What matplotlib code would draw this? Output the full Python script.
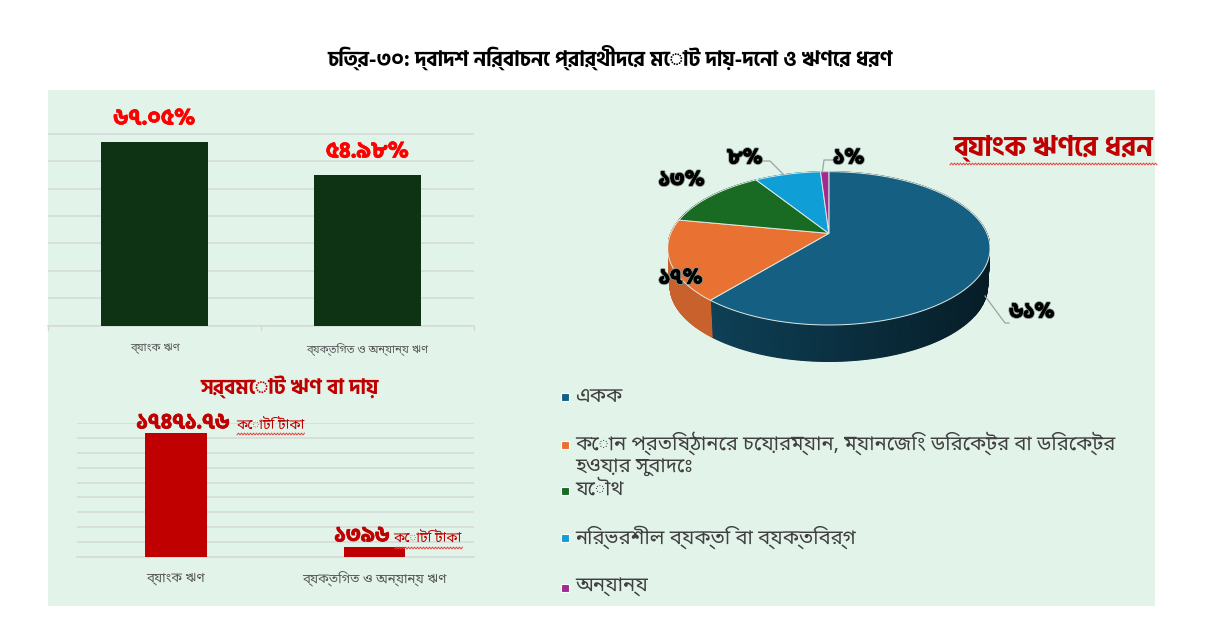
import numpy as np
import matplotlib
matplotlib.use('Agg')
import matplotlib.pyplot as plt
import matplotlib.patheffects as pe
from matplotlib.patches import Polygon

plt.rcParams['font.family'] = ['Noto Sans Bengali', 'DejaVu Sans']
BOLD = ['Hind Siliguri', 'Noto Sans Bengali', 'DejaVu Sans']

W, H = 1220, 617

# data
title_text = 'চিত্র-৩০: দ্বাদশ নির্বাচনে প্রার্থীদের মোট দায়-দেনা ও ঋণের ধরণ'

share_cats = ['ব্যাংক ঋণ', 'ব্যক্তিগত ও অন্যান্য ঋণ']
share_vals = [67.05, 54.98]
share_labels = ['৬৭.০৫%', '৫৪.৯৮%']

total_title = 'সর্বমোট ঋণ বা দায়'
total_cats = ['ব্যাংক ঋণ', 'ব্যক্তিগত ও অন্যান্য ঋণ']
total_vals = [17471.76, 1396]
total_labels = ['১৭৪৭১.৭৬', '১৩৯৬']
unit_text = 'কোটি টাকা'

pie_title = 'ব্যাংক ঋণের ধরন'
pie_vals = [61, 17, 13, 8, 1]
pie_labels = ['৬১%', '১৭%', '১৩%', '৮%', '১%']
pie_names = ['একক',
             'কোন প্রতিষ্ঠানের চেয়ারম্যান, ম্যানেজিং ডিরেক্টর বা ডিরেক্টর\nহওয়ার সুবাদেঃ',
             'যৌথ',
             'নির্ভরশীল ব্যক্তি বা ব্যক্তিবর্গ',
             'অন্যান্য']
pie_colors = ['#156082', '#e97132', '#196b24', '#0f9ed5', '#a02b93']


def axes_px(left, top, right, bottom, **kw):
    # axes placed by picture pixels
    return fig.add_axes([left / W, 1 - bottom / H, (right - left) / W, (bottom - top) / H], **kw)


def shade(color, f):
    c = np.array(matplotlib.colors.to_rgb(color))
    return tuple(c * f)


def heavy(color, lw=0.7):
    return [pe.withStroke(linewidth=lw, foreground=color)]


fig = plt.figure(figsize=(W / 100, H / 100), dpi=100, facecolor='white')

# pixel axes behind everything, only for the panel
back = axes_px(0, 0, W, H, zorder=0)
back.set_xlim(0, W)
back.set_ylim(H, 0)
back.axis('off')
back.fill_between([48, 1155], 90, 606, color='#e2f3ea', lw=0)

GRID = '#d3dad6'
LABEL = '#595959'

# top left bars
ax1 = axes_px(48, 106.5, 474, 325.5, zorder=1)
ax1.patch.set_alpha(0)
ax1.bar(range(2), share_vals, width=0.5, color='#0e3214', zorder=3)
ax1.set_xlim(-0.5, 1.5)
ax1.set_ylim(0, 80)
ax1.set_yticks(np.arange(0, 81, 10))
ax1.set_yticklabels([])
ax1.set_xticks(range(2))
ax1.set_xticklabels(share_cats, fontsize=8, color=LABEL)
ax1.tick_params(axis='y', length=0)
ax1.tick_params(axis='x', length=0, pad=12.5)
ax1.grid(axis='y', color=GRID, lw=1.1, zorder=0)
ax1.set_axisbelow(True)
for s in ['top', 'left', 'right']:
    ax1.spines[s].set_visible(False)
ax1.spines['bottom'].set_color(GRID)
ax1.spines['bottom'].set_linewidth(1.1)
for x in [-0.5, 0.5, 1.5]:
    ax1.plot([x, x], [0, -1.6], color=GRID, lw=1, clip_on=False)
for i, lab in enumerate(share_labels):
    ax1.annotate(lab, (i, share_vals[i]), xytext=(0, 16.5), textcoords='offset points',
                 ha='center', va='center', color='#ff0000', fontsize=16, fontweight='bold',
                 family=BOLD, path_effects=heavy('#ff0000', 0.5))

# bottom left bars
ax2 = axes_px(76.5, 423, 474, 557, zorder=1)
ax2.patch.set_alpha(0)
ax2.bar(range(2), total_vals, width=0.31, color='#c00000', zorder=3)
ax2.set_xlim(-0.5, 1.5)
ax2.set_ylim(0, 18900)
ax2.set_yticks(np.arange(0, 18901, 2100))
ax2.set_yticklabels([])
ax2.set_xticks(range(2))
ax2.set_xticklabels(total_cats, fontsize=9.5, color=LABEL)
ax2.tick_params(axis='both', length=0)
ax2.tick_params(axis='x', pad=10.5)
ax2.grid(axis='y', color=GRID, lw=1.1, zorder=0)
ax2.set_axisbelow(True)
for s in ['top', 'left', 'right']:
    ax2.spines[s].set_visible(False)
ax2.spines['bottom'].set_color(GRID)
ax2.spines['bottom'].set_linewidth(1.1)

# pie, flat wedges from ax.pie redrawn in the 3d view
TILT = 0.195
DEPTH = 0.49


def view(u, v):
    # perspective of the unit disc, apex sits above the centre of the ellipse
    d = 1 + TILT * v
    return np.sqrt(1 - TILT ** 2) * u / d, (v + TILT) / d


ax3 = axes_px(667.7, 164, 990, 371, zorder=2)
wedges, _ = ax3.pie(pie_vals, colors=pie_colors, startangle=90, counterclock=False)
ax3.set_aspect('auto')
ax3.set_xlim(-1, 1)
ax3.set_ylim(-1.6, 1.1)
ax3.axis('off')
ax3.patch.set_alpha(0)

for w, col in zip(wedges, pie_colors):
    w.set_visible(False)
    t = np.radians(np.linspace(w.theta1, w.theta2, 240))
    x, y = view(np.cos(t), np.sin(t))
    # side wall first, the top face hides the back of it
    for i in range(len(t) - 1):
        xb = x[i:i + 2] * 0.985
        yb = y[i:i + 2] * 0.985 - DEPTH
        pos = (x[i] + 1) / 2
        f = 0.72 - 0.42 * pos if col == pie_colors[0] else 0.86
        quad = np.column_stack([np.r_[x[i:i + 2], xb[::-1]], np.r_[y[i:i + 2], yb[::-1]]])
        ax3.add_patch(Polygon(quad, closed=True, fc=shade(col, f), ec=shade(col, f), lw=0.8, zorder=1))

for w, col in zip(wedges, pie_colors):
    t = np.radians(np.linspace(w.theta1, w.theta2, 240))
    x, y = view(np.cos(t), np.sin(t))
    ox, oy = view(0.0, 0.0)
    face = np.column_stack([np.r_[ox, x], np.r_[oy, y]])
    ax3.add_patch(Polygon(face, closed=True, fc=col, ec='#dfe9e4', lw=0.7, zorder=2))

# pixel axes on top for the free text
top = axes_px(0, 0, W, H, zorder=5)
top.set_xlim(0, W)
top.set_ylim(H, 0)
top.axis('off')
top.patch.set_alpha(0)


def squiggle(x0, x1, y):
    xs = np.arange(x0, x1 + 0.1, 1.5)
    top.plot(xs, y + 0.9 * (-1.0) ** np.arange(len(xs)), color='#e8403a', lw=0.7)


top.text(610, 57, title_text, ha='center', va='center', fontsize=15, fontweight='bold', color='black', family=BOLD)

# bar titles and units
top.text(290, 387, total_title, ha='center', va='center', fontsize=15, fontweight='bold', color='#c00000',
         family=BOLD)
top.text(183, 423, total_labels[0], ha='center', va='center', fontsize=15.5, fontweight='bold', color='#c00000',
         family=BOLD, path_effects=heavy('#c00000', 0.5))
top.text(270, 425, unit_text, ha='center', va='center', fontsize=10, color='#c00000')
squiggle(237, 305, 434)
top.text(362, 536, total_labels[1], ha='center', va='center', fontsize=15.5, fontweight='bold', color='#c00000',
         family=BOLD, path_effects=heavy('#c00000', 0.5))
top.text(427, 538, unit_text, ha='center', va='center', fontsize=10, color='#c00000')
squiggle(395, 463, 548)

# pie title and labels
top.text(1053, 148, pie_title, ha='center', va='center', fontsize=20, fontweight='bold', color='#c00000',
         family=BOLD)
squiggle(950, 1157, 164)

glow = [pe.withStroke(linewidth=1.8, foreground='#7f8f87'), pe.withStroke(linewidth=0.5, foreground='black')]
label_pos = [(1032, 312), (681, 278), (682, 180), (745, 158), (849, 158)]
for lab, (x, y) in zip(pie_labels, label_pos):
    top.text(x, y, lab, ha='center', va='center', fontsize=15, fontweight='bold', color='black',
             family=BOLD, path_effects=glow)
top.plot([985, 1005, 1009], [296, 323, 323], color='#9aa5a0', lw=0.9)
top.plot([784, 770, 763], [175, 161, 161], color='#9aa5a0', lw=0.9)
top.plot([822.5, 824, 833], [171, 160, 160], color='#9aa5a0', lw=0.9)

# legend, wrapped text runs into the next entry like in the source
legend_y = [396, 444, 490, 537, 587]
for name, col, y in zip(pie_names, pie_colors, legend_y):
    top.scatter([565], [y + 1], marker='s', s=30, color=col, edgecolor='white', linewidth=0.8)
    for k, line in enumerate(name.split('\n')):
        top.text(575, y + 24 * k, line, ha='left', va='center', fontsize=14.5, color='#404040')

fig.savefig('out.png', dpi=100)
